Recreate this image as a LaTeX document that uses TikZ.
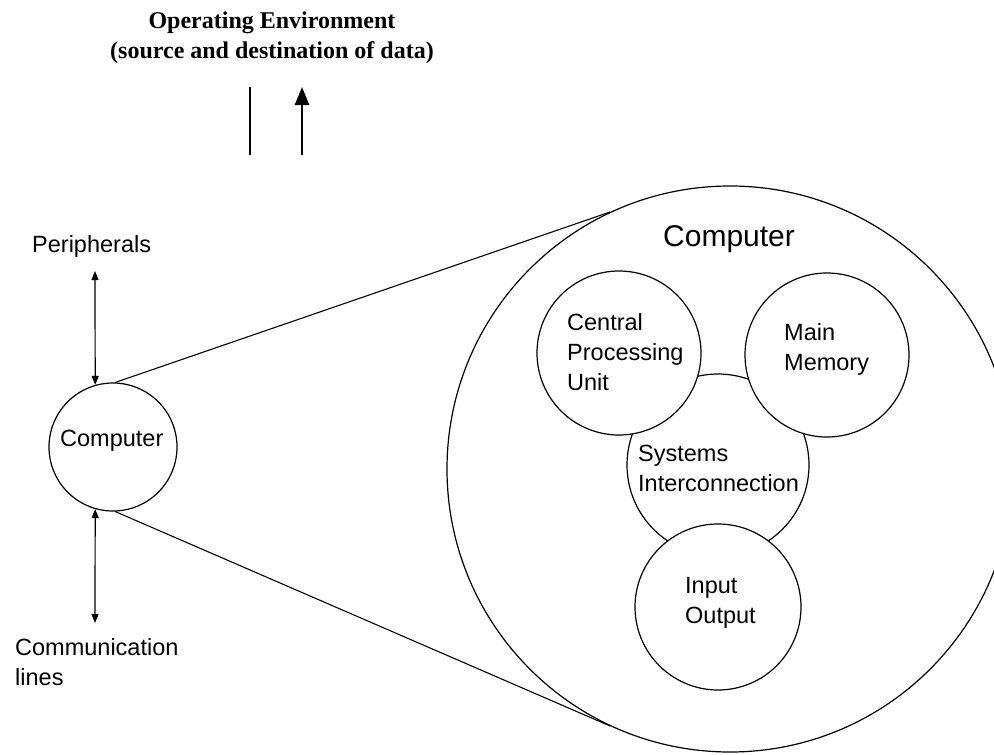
\documentclass[tikz,border=0pt]{standalone}
\usepackage{fontspec}
\setmainfont{Liberation Sans}
\newfontfamily\titlefont{Liberation Serif}
\usetikzlibrary{arrows.meta}

\begin{document}
\begin{tikzpicture}
[x=1pt,y=-1pt,
  unitDecorate/.style={shape=circle,inner sep=0pt,draw,line width=1.2pt,fill=white},%
  textDecorate/.style={anchor=north west,inner sep=0pt,align=left,font=\fontsize{23.5}{30}\selectfont},%
  lineDecorate/.style={-,line width=1.1pt},%
  portDecorate/.style={{Triangle[length=9pt,width=7pt]}-{Triangle[length=9pt,width=7pt]},line width=1.2pt},%
  flowDecorate/.style={line width=2.6pt}]
\useasboundingbox (0,0) rectangle (994,755);

%% operating environment and data flow
\node (env) at (272,12) [anchor=north,inner sep=0pt,align=center,
  font=\titlefont\bfseries\fontsize{24}{30}\selectfont]
  {Operating Environment\\(source and destination of data)};
\coordinate (inTop) at (250,87);
\coordinate (inBot) at (250,155);
\coordinate (outTop) at (302,87);
\coordinate (outBot) at (302,155);
\draw[flowDecorate] (inTop) -- (inBot);
\draw[flowDecorate,-{Triangle[length=18pt,width=14pt]}] (outBot) -- (outTop);

%% the computer and its surroundings
\node (pc) at (113,447) [unitDecorate,minimum size=128pt] {};
\node (pcText) at (60,430) [textDecorate] {Computer};
\node (periph) at (32,235) [textDecorate] {Peripherals};
\node (comm) at (15,638) [textDecorate] {Communication\\lines};
\coordinate (periphEnd) at (95,271);
\coordinate (commEnd) at (95,623);
\draw[portDecorate] (periphEnd) -- (pc.106);
\draw[portDecorate] (pc.254) -- (commEnd);

%% enlarged view
\node (sys) at (730,469) [unitDecorate,minimum size=566pt] {};
\node (sysText) at (663,225) [textDecorate,font=\fontsize{30}{36}\selectfont] {Computer};
\path
\foreach \startnode/\endnode in {pc.88/sys.115, pc.-88/sys.245}
{
  (\startnode) edge[lineDecorate] (\endnode)
};

%% parts of the computer
\foreach \nodename/\x/\y/\d in {
  inter/718/465/182, cpu/619/353/164, mem/827/355/164, io/718/607/166}
{
  \node (\nodename) at (\x,\y) [unitDecorate,minimum size=\d pt] {};
}
\node (cpuText) at (567,313) [textDecorate] {Central\\Processing\\Unit};
\node (memText) at (784,323) [textDecorate] {Main\\Memory};
\node (interText) at (638,445) [textDecorate] {Systems\\Interconnection};
\node (ioText) at (685,577) [textDecorate] {Input\\Output};
\end{tikzpicture}
\end{document}
